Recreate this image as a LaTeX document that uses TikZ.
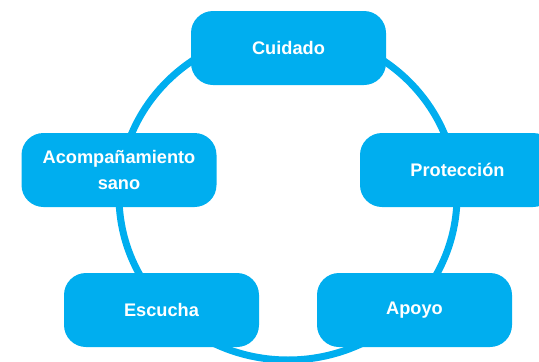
\documentclass[tikz,border=0pt]{standalone}
\usepackage{fontspec}
\setmainfont{Liberation Sans}
\definecolor{cyanbox}{RGB}{0,174,239}
\begin{document}
\begin{tikzpicture}[x=1pt,y=-1pt,
  box/.style={fill=cyanbox, draw=none, rounded corners=22pt, minimum width=195pt,
    minimum height=74pt, inner sep=0pt, text=white, align=center,
    font=\fontsize{18.2}{26}\selectfont\bfseries},
  ring/.style={draw=cyanbox, line width=7pt}]
\clip (0,0) rectangle (539,362);
\draw[ring] (288,196) ellipse [x radius=169pt, y radius=164pt];
\node[box] (cuidado) at (288.5,48) {Cuidado};
\node[box] (acomp) at (119,170) {Acompañamiento\\sano};
\node[box] (prot) at (457.5,170) {Protección};
\node[box] (escucha) at (161.5,310) {Escucha};
\node[box] (apoyo) at (414.5,310) {Apoyo};
\end{tikzpicture}
\end{document}
